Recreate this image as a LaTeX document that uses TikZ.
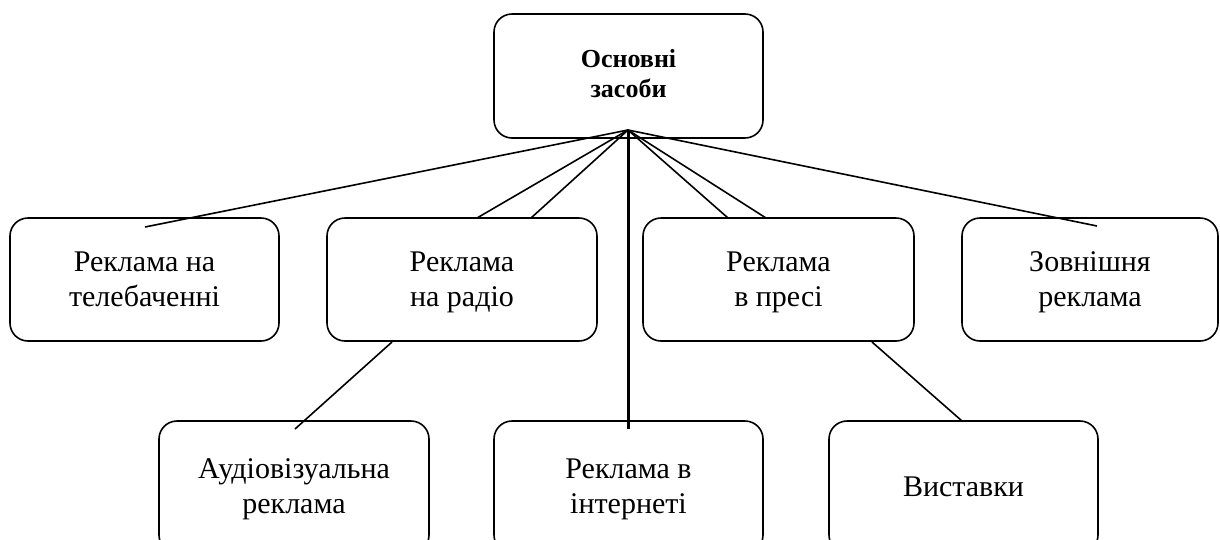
\documentclass[tikz,border=0pt]{standalone}
\usepackage{fontspec}
\setmainfont{Liberation Serif}
\newcommand\tstr{\rule{0pt}{28.5pt}}
\newcommand\bstr{\rule[-10.5pt]{0pt}{10.5pt}}
\newcommand\ttstr{\rule{0pt}{21pt}}
\newcommand\tbstr{\rule[-9pt]{0pt}{9pt}}
\begin{document}
\begin{tikzpicture}[x=1pt,y=-1pt,
  box/.style={draw, line width=1.6pt, rounded corners=18pt, align=center, inner sep=0pt,
    font=\fontsize{30}{35}\selectfont},
  topbox/.style={box, font=\fontsize{26}{30}\selectfont\bfseries},
  link/.style={line width=1.6pt},
  mainlink/.style={line width=3pt}]
\useasboundingbox (0,0) rectangle (1220,539);
% boxes
\node[topbox, minimum width=269pt, minimum height=124pt] (top) at (628.5,76) {\ttstr Основні\\засоби\tbstr};
\node[box, minimum width=269pt, minimum height=123pt] (tv) at (144.5,279.5) {\tstr Реклама на\\телебаченні\bstr};
\node[box, minimum width=270pt, minimum height=123pt] (radio) at (462,279.5) {\tstr Реклама\\на радіо\bstr};
\node[box, minimum width=271pt, minimum height=123pt] (press) at (778.5,279.5) {\tstr Реклама\\в пресі\bstr};
\node[box, minimum width=256pt, minimum height=123pt] (outdoor) at (1090,279.5) {\tstr Зовнішня\\реклама\bstr};
\node[box, minimum width=270pt, minimum height=132pt] (av) at (294,487) {\tstr Аудіовізуальна\\реклама\bstr};
\node[box, minimum width=269pt, minimum height=132pt] (web) at (628.5,487) {\tstr Реклама в\\інтернеті\bstr};
\node[box, minimum width=269pt, minimum height=132pt] (expo) at (963.5,487) {\tstr Виставки\bstr};
% connector end points
\coordinate (hub) at (628,130);
\coordinate (e1) at (145,227);
\coordinate (e2a) at (477,218);
\coordinate (e2b) at (531,218);
\coordinate (e3a) at (728,218);
\coordinate (e3b) at (766,218);
\coordinate (e4) at (1097,226);
\coordinate (e6) at (628,429);
\coordinate (r1) at (392,342);
\coordinate (r2) at (295,429);
\coordinate (p1) at (872,342);
\coordinate (p2) at (962,421);
% connectors
\draw[link] (hub) -- (e1);
\draw[link] (hub) -- (e2a);
\draw[link] (hub) -- (e2b);
\draw[link] (hub) -- (e3a);
\draw[link] (hub) -- (e3b);
\draw[link] (hub) -- (e4);
\draw[mainlink] (hub) -- (e6);
\draw[link] (r1) -- (r2);
\draw[link] (p1) -- (p2);
\end{tikzpicture}
\end{document}
